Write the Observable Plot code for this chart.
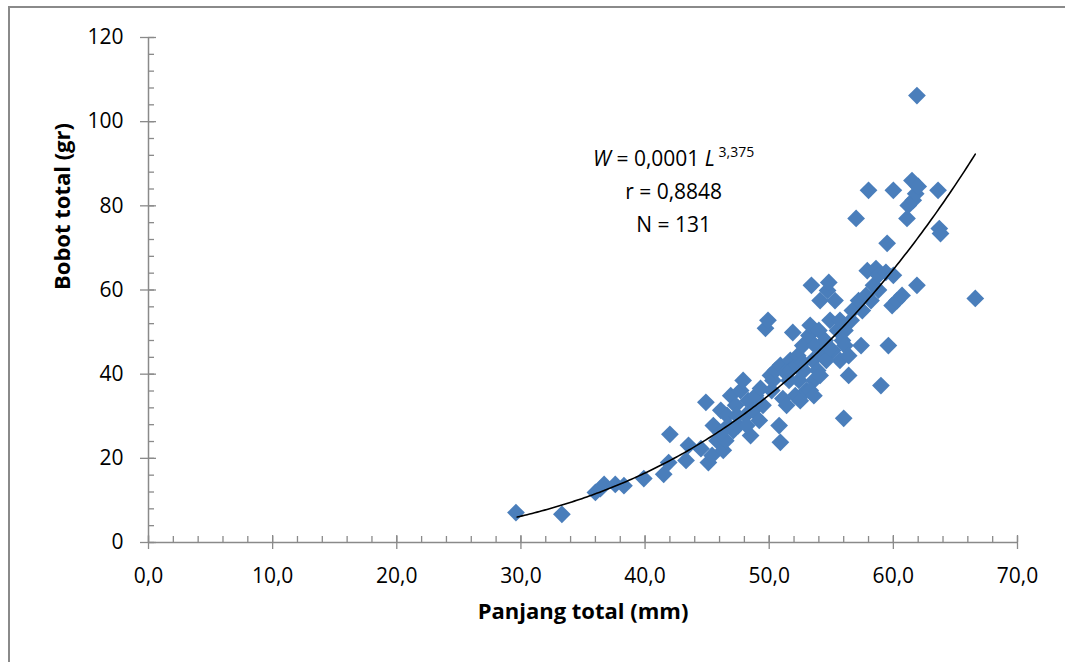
<!DOCTYPE html>
<html>
<head>
<meta charset="utf-8">
<script src="https://cdn.jsdelivr.net/npm/d3@7"></script>
<script src="https://cdn.jsdelivr.net/npm/@observablehq/plot@0.6"></script>
<style>
  html, body { margin: 0; padding: 0; background: #fff; }
  #wrap { position: relative; width: 1065px; height: 662px; overflow: hidden; }
  #border { position: absolute; left: 8px; top: 6px; width: 1100px; height: 700px;
            border-left: 2px solid #8a8a8a; border-top: 2px solid #8a8a8a; box-sizing: border-box; }
  svg { font-family: "Open Sans", sans-serif; }
</style>
</head>
<body>
<div id="wrap"><div id="border"></div></div>
<script>
// Panjang total (mm)
const lengths = [
  29.6, 33.3, 36.0, 36.4, 36.7, 37.6, 38.3, 39.9, 41.5, 41.9,
  42.0, 43.3, 43.5, 44.9, 45.1, 45.4, 45.5, 45.8, 46.1, 46.3,
  46.5, 46.6, 46.9, 47.1, 47.3, 47.5, 47.7, 47.9, 48.1, 48.3,
  48.5, 48.7, 49.2, 49.5, 49.7, 49.9, 50.1, 50.3, 50.5, 50.8,
  50.9, 50.9, 51.1, 51.4, 51.6, 51.7, 51.9, 52.1, 52.3, 52.4,
  52.5, 52.7, 52.8, 53.0, 53.2, 53.3, 53.4, 53.5, 53.6, 53.7,
  53.9, 54.0, 54.1, 54.3, 54.5, 54.7, 54.8, 54.9, 55.1, 55.3,
  55.5, 55.7, 55.9, 56.0, 56.1, 56.4, 56.6, 56.7, 57.0, 57.2,
  57.4, 57.5, 57.8, 57.9, 58.0, 58.2, 58.4, 58.6, 58.8, 59.0,
  59.4, 59.5, 59.6, 59.9, 60.0, 60.0, 60.3, 60.7, 61.1, 61.2,
  61.5, 61.6, 61.8, 61.9, 61.9, 62.0, 63.6, 63.7, 63.8, 66.6,
  48.9, 49.3, 50.2, 51.3, 51.7, 52.2, 52.7, 54.1, 54.6, 54.9,
  48.2, 47.4, 46.7, 44.5, 46.1, 53.3, 53.6, 55.7, 56.1, 56.4,
  58.8
];
// Bobot total (gr)
const weights = [
  7.1, 6.7, 11.9, 12.8, 13.8, 13.8, 13.5, 15.2, 16.2, 19.0,
  25.7, 19.5, 23.1, 33.3, 19.0, 20.7, 27.8, 24.2, 31.4, 21.9,
  24.2, 30.2, 34.9, 26.6, 32.6, 27.8, 36.1, 38.5, 30.2, 33.7,
  25.4, 31.4, 29.0, 32.6, 50.9, 52.8, 39.7, 38.5, 40.9, 27.8,
  42.1, 23.8, 34.2, 32.6, 38.5, 43.3, 49.9, 34.9, 44.4, 38.5,
  33.7, 46.8, 40.9, 36.1, 49.2, 51.6, 61.1, 43.3, 38.5, 46.8,
  40.9, 50.4, 57.5, 44.4, 48.0, 59.9, 61.8, 52.8, 45.6, 57.5,
  50.4, 43.3, 48.0, 29.5, 46.8, 39.7, 52.8, 55.1, 77.0, 57.5,
  46.8, 55.1, 58.7, 64.6, 83.7, 57.5, 61.1, 65.1, 63.5, 37.3,
  64.2, 71.1, 46.8, 56.3, 83.7, 63.5, 57.5, 58.7, 77.0, 80.1,
  86.0, 81.3, 82.9, 61.1, 106.2, 84.6, 83.7, 74.6, 73.4, 58.0,
  34.9, 36.6, 36.1, 40.4, 40.9, 42.1, 42.8, 39.7, 43.3, 46.1,
  27.8, 30.2, 27.8, 22.3, 26.1, 36.1, 34.9, 52.8, 50.4, 44.4,
  60.0
];

// fitted power trend (W = a L^b); displayed coefficient is rounded
const trendA = 0.0000647;
const trendB = 3.375;
const trendRange = [29.7, 66.6];

const xMajor = [0, 10, 20, 30, 40, 50, 60, 70];
const xMinor = d3.range(0, 70.001, 2);
const yMajor = [0, 20, 40, 60, 80, 100, 120];
const yMinor = d3.range(0, 120.001, 4);

const xTitle = "Panjang total (mm)";
const yTitle = "Bobot total (gr)";
const annLines = ["W = 0,0001 L 3,375", "r = 0,8848", "N = 131"];
const annX = [42.3, 42.3, 42.3];
const annY = [91.0, 83.2, 75.3];

const points = lengths.map((L, i) => ({L, W: weights[i]}));
const trend = d3.range(trendRange[0], trendRange[1] + 0.001, 0.2)
  .concat([trendRange[1]])
  .map(L => ({L, W: trendA * Math.pow(L, trendB)}));

const fmtX = d => d.toFixed(1).replace(".", ",");
const axisColor = "#8a8a8a";
const fs = 21;
const fsTitle = 22;
const fsAnn = 21;

const chart = Plot.plot({
  width: 1065,
  height: 662,
  marginLeft: 148,
  marginRight: 48,
  marginTop: 37,
  marginBottom: 120,
  style: {fontFamily: "'Open Sans', sans-serif", fontSize: fs + "px", color: "#000", background: "transparent"},
  x: {domain: [0, 70]},
  y: {domain: [0, 120]},
  marks: [
    // axis lines
    Plot.ruleY([0], {stroke: axisColor, strokeWidth: 1.5}),
    Plot.ruleX([0], {stroke: axisColor, strokeWidth: 1.5}),
    // y ticks: major crossing, minor inside
    Plot.axisY({ticks: yMajor, tickSize: 16, dx: 8, text: null, stroke: axisColor, strokeWidth: 1.3, label: null}),
    Plot.axisY({ticks: yMinor, tickSize: 6, dx: 6, text: null, stroke: axisColor, strokeWidth: 1.3, label: null}),
    Plot.axisY({ticks: yMajor, tickSize: 0, tickPadding: 25, tickFormat: d => String(d), fill: "#000", fontSize: fs, label: null}),
    // x ticks: major crossing, minor inside
    Plot.axisX({ticks: xMajor, tickSize: 14, dy: -7, text: null, stroke: axisColor, strokeWidth: 1.3, label: null}),
    Plot.axisX({ticks: xMinor, tickSize: 6, dy: -6, text: null, stroke: axisColor, strokeWidth: 1.3, label: null}),
    Plot.axisX({ticks: xMajor, tickSize: 0, tickPadding: 26, tickFormat: fmtX, fill: "#000", fontSize: fs, label: null}),
    // axis titles
    Plot.text([xTitle], {frameAnchor: "bottom", dy: 76, fontWeight: "bold", fontSize: fsTitle, fill: "#000"}),
    Plot.text([yTitle], {frameAnchor: "left", dx: -86, rotate: -90, fontWeight: "bold", fontSize: fsTitle, fill: "#000"}),
    // data
    Plot.dot(points, {x: "L", y: "W", symbol: "diamond2", r: 8, fill: "#4a7ebb", stroke: "none"}),
    Plot.line(trend, {x: "L", y: "W", stroke: "#000", strokeWidth: 1.6, curve: "linear"}),
    // annotation
    Plot.text(annLines, {x: (d, i) => annX[i], y: (d, i) => annY[i], text: d => d, fontSize: fsAnn, fill: "#000", className: "ann"})
  ]
});

// rich formatting for the equation line
const ann = chart.querySelectorAll(".ann text");
if (ann.length) {
  const t = ann[0];
  t.textContent = "";
  const ns = "http://www.w3.org/2000/svg";
  const add = (txt, attrs) => {
    const s = document.createElementNS(ns, "tspan");
    s.textContent = txt;
    for (const k in attrs) s.setAttribute(k, attrs[k]);
    t.appendChild(s);
    return s;
  };
  add("W", {"font-style": "italic"});
  add(" = 0,0001 ", {});
  add("L", {"font-style": "italic"});
  add(" 3,375", {"font-size": "14", "dy": "-9"});
}

chart.style.position = "absolute";
chart.style.left = "0px";
chart.style.top = "0px";
document.getElementById("wrap").appendChild(chart);
</script>
</body>
</html>
